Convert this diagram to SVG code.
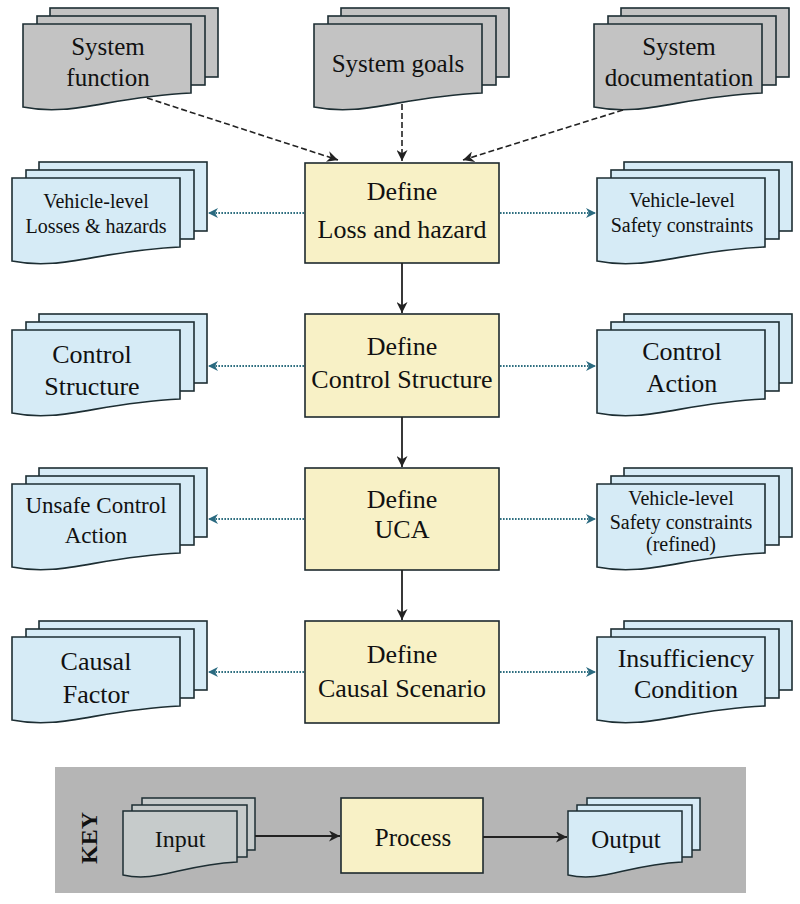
<svg xmlns="http://www.w3.org/2000/svg" xmlns:xlink="http://www.w3.org/1999/xlink" width="800" height="904" viewBox="0 0 800 904">
<style>
  text { font-family: "Liberation Serif", "Times New Roman", serif; fill: #111; text-anchor: middle; }
  .t25 { font-size: 25px; }
  .t26 { font-size: 26px; }
  .t23 { font-size: 23px; }
  .t20 { font-size: 20px; }
  .gray { fill: #c3c3c3; }
  .blue { fill: #d6ebf6; }
  .kgray { fill: #c6cbcb; }
  .proc { fill: #f8f1c6; stroke: #1d2a2e; stroke-width: 1.6; }
  .solid { stroke: #222; stroke-width: 1.8; fill: none; }
  .dash { stroke: #222; stroke-width: 1.6; fill: none; stroke-dasharray: 6 3; }
  .dot { stroke: #2f6f80; stroke-width: 2; fill: none; stroke-dasharray: 1.6 1.4; }
</style>
<defs>
  <g id="stack" stroke="#1d2e33" stroke-width="1.6">
    <rect x="27" y="0" width="168" height="69"/>
    <rect x="14" y="8" width="168" height="69"/>
    <path d="M0,16 H168 V85 C84,89 50.4,109 0,99 Z"/>
  </g>
  <g id="kstack" stroke="#1d2e33" stroke-width="1.5">
    <rect x="19" y="0" width="113" height="52"/>
    <rect x="9" y="7" width="115" height="52"/>
    <path d="M0,13 H114 V64 C57,67 34,85 0,77 Z"/>
  </g>
  <marker id="ah" viewBox="0 0 10 10" refX="10" refY="5" markerWidth="11" markerHeight="11" markerUnits="userSpaceOnUse" orient="auto">
    <path d="M0,0 L10,5 L0,10 L3,5 Z" fill="#222"/>
  </marker>
  <marker id="ahT" viewBox="0 0 10 10" refX="10" refY="5" markerWidth="10" markerHeight="10" markerUnits="userSpaceOnUse" orient="auto">
    <path d="M0,0 L10,5 L0,10 L3,5 Z" fill="#2a6a80"/>
  </marker>
</defs>
<rect width="800" height="904" fill="#ffffff"/>

<!-- Inputs -->
<g id="sys-function">
  <use xlink:href="#stack" href="#stack" class="gray" transform="translate(23,8)"/>
  <text class="t25" x="108" y="55">System</text>
  <text class="t25" x="108" y="86">function</text>
</g>
<g id="sys-goals">
  <use xlink:href="#stack" href="#stack" class="gray" transform="translate(314,8)"/>
  <text class="t25" x="398" y="72">System goals</text>
</g>
<g id="sys-doc">
  <use xlink:href="#stack" href="#stack" class="gray" transform="translate(594,8)"/>
  <text class="t25" x="679" y="55">System</text>
  <text class="t25" x="679" y="86">documentation</text>
</g>

<!-- Processes -->
<g id="p-loss">
  <rect class="proc" x="305" y="163" width="194" height="100"/>
  <text class="t26" x="402" y="200">Define</text>
  <text class="t26" x="402" y="238">Loss and hazard</text>
</g>
<g id="p-control">
  <rect class="proc" x="305" y="314" width="194" height="103"/>
  <text class="t26" x="402" y="355">Define</text>
  <text class="t26" x="402" y="388">Control Structure</text>
</g>
<g id="p-uca">
  <rect class="proc" x="305" y="468" width="194" height="102"/>
  <text class="t26" x="402" y="508">Define</text>
  <text class="t26" x="402" y="538">UCA</text>
</g>
<g id="p-causal">
  <rect class="proc" x="305" y="621" width="194" height="102"/>
  <text class="t26" x="402" y="663">Define</text>
  <text class="t26" x="402" y="697">Causal Scenario</text>
</g>

<!-- Left outputs -->
<g id="o-losses">
  <use xlink:href="#stack" href="#stack" class="blue" transform="translate(12,162)"/>
  <text class="t20" x="96" y="208">Vehicle-level</text>
  <text class="t20" x="96" y="233">Losses &amp; hazards</text>
</g>
<g id="o-structure">
  <use xlink:href="#stack" href="#stack" class="blue" transform="translate(12,314)"/>
  <text class="t26" x="92" y="363">Control</text>
  <text class="t26" x="92" y="395">Structure</text>
</g>
<g id="o-uca">
  <use xlink:href="#stack" href="#stack" class="blue" transform="translate(12,468)"/>
  <text class="t23" x="96" y="513">Unsafe Control</text>
  <text class="t23" x="96" y="543">Action</text>
</g>
<g id="o-factor">
  <use xlink:href="#stack" href="#stack" class="blue" transform="translate(12,621)"/>
  <text class="t26" x="96" y="670">Causal</text>
  <text class="t26" x="96" y="703">Factor</text>
</g>

<!-- Right outputs -->
<g id="o-constraints">
  <use xlink:href="#stack" href="#stack" class="blue" transform="translate(597,162)"/>
  <text class="t20" x="682" y="207">Vehicle-level</text>
  <text class="t20" x="682" y="232">Safety constraints</text>
</g>
<g id="o-action">
  <use xlink:href="#stack" href="#stack" class="blue" transform="translate(597,314)"/>
  <text class="t26" x="682" y="360">Control</text>
  <text class="t26" x="682" y="392">Action</text>
</g>
<g id="o-refined">
  <use xlink:href="#stack" href="#stack" class="blue" transform="translate(597,468)"/>
  <text class="t20" x="681" y="505">Vehicle-level</text>
  <text class="t20" x="681" y="529">Safety constraints</text>
  <text class="t20" x="681" y="551">(refined)</text>
</g>
<g id="o-insuff">
  <use xlink:href="#stack" href="#stack" class="blue" transform="translate(597,621)"/>
  <text class="t26" x="686" y="667">Insufficiency</text>
  <text class="t26" x="686" y="698">Condition</text>
</g>

<!-- Connectors -->
<g id="connectors">
  <line class="dash" x1="147" y1="98" x2="338" y2="160" marker-end="url(#ah)"/>
  <line class="dash" x1="402" y1="104" x2="402" y2="161" marker-end="url(#ah)"/>
  <line class="dash" x1="623" y1="110" x2="463" y2="160" marker-end="url(#ah)"/>
  <line class="solid" x1="402" y1="263" x2="402" y2="313" marker-end="url(#ah)"/>
  <line class="solid" x1="402" y1="417" x2="402" y2="467" marker-end="url(#ah)"/>
  <line class="solid" x1="402" y1="570" x2="402" y2="620" marker-end="url(#ah)"/>
  <line class="dot" x1="304" y1="213" x2="208" y2="213" marker-end="url(#ahT)"/>
  <line class="dot" x1="500" y1="213" x2="596" y2="213" marker-end="url(#ahT)"/>
  <line class="dot" x1="304" y1="366" x2="208" y2="366" marker-end="url(#ahT)"/>
  <line class="dot" x1="500" y1="366" x2="596" y2="366" marker-end="url(#ahT)"/>
  <line class="dot" x1="304" y1="519" x2="208" y2="519" marker-end="url(#ahT)"/>
  <line class="dot" x1="500" y1="519" x2="596" y2="519" marker-end="url(#ahT)"/>
  <line class="dot" x1="304" y1="672" x2="208" y2="672" marker-end="url(#ahT)"/>
  <line class="dot" x1="500" y1="672" x2="596" y2="672" marker-end="url(#ahT)"/>
</g>

<!-- Key -->
<g id="key">
  <rect x="55" y="767" width="691" height="126" fill="#b5b5b5"/>
  <text transform="translate(97,838) rotate(-90)" style="font-size:24px;font-weight:bold">KEY</text>
  <g id="key-input">
    <use xlink:href="#kstack" href="#kstack" class="kgray" transform="translate(123,798)"/>
    <text x="180" y="847" style="font-size:24px">Input</text>
  </g>
  <g id="key-process">
    <rect class="proc" x="341" y="798" width="142" height="75"/>
    <text x="413" y="846" style="font-size:25px">Process</text>
  </g>
  <g id="key-output">
    <use xlink:href="#kstack" href="#kstack" class="blue" transform="translate(568,798)"/>
    <text x="626" y="848" style="font-size:25px">Output</text>
  </g>
  <g id="key-connectors">
    <line class="solid" x1="255" y1="836" x2="340" y2="836" marker-end="url(#ah)"/>
    <line class="solid" x1="483" y1="837" x2="567" y2="837" marker-end="url(#ah)"/>
  </g>
</g>
</svg>
